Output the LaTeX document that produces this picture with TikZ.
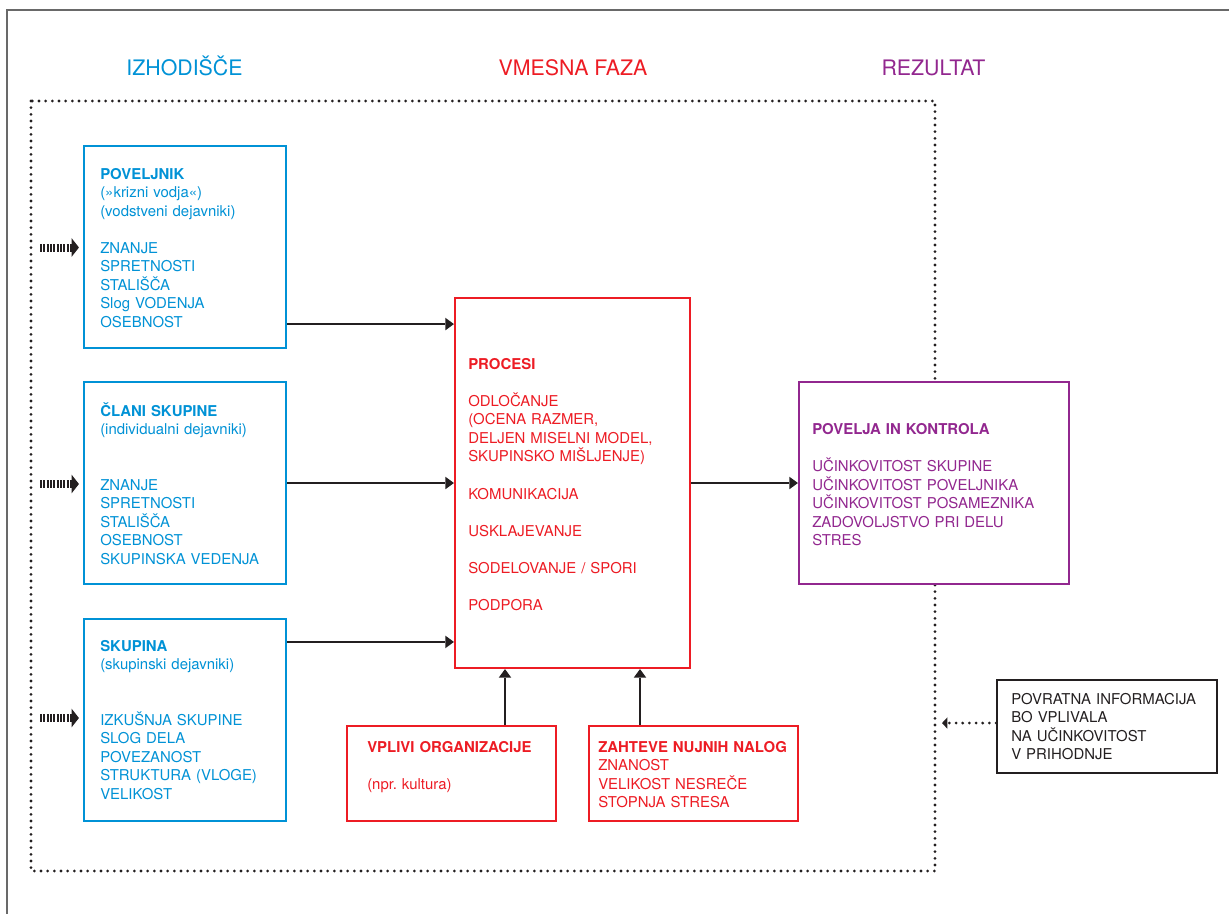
\documentclass[tikz,border=0pt]{standalone}
\usepackage{fontspec}
\setmainfont{TeX Gyre Heros}
\usetikzlibrary{arrows.meta,fit}
\definecolor{cblue}{RGB}{0,146,214}
\definecolor{cred}{RGB}{237,28,36}
\definecolor{cpurple}{RGB}{146,39,143}
\definecolor{cblack}{RGB}{35,31,32}
\definecolor{cframe}{RGB}{105,105,105}
\frenchspacing
\begin{document}
\begin{tikzpicture}[x=0.75pt,y=-0.75pt,
  box/.style={draw, line width=1.6pt, fill=white, inner sep=0pt},
  txt/.style={anchor=base west, inner sep=0pt, text width=270pt, align=left, font=\fontsize{11.2}{13.9}\selectfont},
  head/.style={anchor=base, inner sep=0pt, font=\fontsize{16}{19}\selectfont},
  arr/.style={draw=cblack, line width=1.5pt, -{Triangle[length=6.5pt,width=9.5pt,line width=0pt]}},
  inarr/.style={draw=cblack, line width=6pt, dash pattern=on 1.5pt off 1pt, -{Triangle[length=5.5pt,width=14pt,line width=0pt]}},
  dotline/.style={draw=cblack, line width=2.3pt, line cap=round, dash pattern=on 0pt off 5pt},
  fbarr/.style={dotline, -{Triangle[length=4pt,width=8.5pt,line width=0pt]}},
]
\useasboundingbox (0,0) rectangle (1229,914);
% outer frame
\draw[cframe, line width=1.5pt] (7,914) -- (7,9.5) -- (1229,9.5);
% dotted region
\draw[dotline] (31,101) rectangle (935,871);
% headers
\node[head, text=cblue] (h1) at (184.5,75) {IZHODIŠČE};
\node[head, text=cred] (h2) at (573,75) {VMESNA FAZA};
\node[head, text=cpurple] (h3) at (933.5,75) {REZULTAT};
% boxes
\node[box, draw=cblue, fit={(84,146) (286,348)}] (pov) {};
\node[box, draw=cblue, fit={(84,382) (286,584)}] (cla) {};
\node[box, draw=cblue, fit={(84,619) (286,821)}] (sku) {};
\node[box, draw=cred, fit={(455,298) (690,668)}] (pro) {};
\node[box, draw=cpurple, fit={(799,382) (1069,584)}] (rez) {};
\node[box, draw=cred, fit={(347,726) (556,821)}] (vpl) {};
\node[box, draw=cred, fit={(589,726) (798,821)}] (zah) {};
\node[box, draw=cblack, line width=1.4pt, fit={(997,680) (1217,773)}] (fb) {};
% texts
\node[txt, text=cblue] (povt) at (100,179) {\textbf{POVELJNIK}\\(»krizni vodja«)\\(vodstveni dejavniki)\\~\\ZNANJE\\SPRETNOSTI\\STALIŠČA\\Slog VODENJA\\OSEBNOST};
\node[txt, text=cblue] (clat) at (100,416) {\textbf{ČLANI SKUPINE}\\(individualni dejavniki)\\~\\~\\ZNANJE\\SPRETNOSTI\\STALIŠČA\\OSEBNOST\\SKUPINSKA VEDENJA};
\node[txt, text=cblue] (skut) at (100,651) {\textbf{SKUPINA}\\(skupinski dejavniki)\\~\\~\\IZKUŠNJA SKUPINE\\SLOG DELA\\POVEZANOST\\STRUKTURA (VLOGE)\\VELIKOST};
\node[txt, text=cred] (prot) at (468,369.3) {\textbf{PROCESI}\\~\\ODLOČANJE\\(OCENA RAZMER,\\DELJEN MISELNI MODEL,\\SKUPINSKO MIŠLJENJE)\\~\\KOMUNIKACIJA\\~\\USKLAJEVANJE\\~\\SODELOVANJE / SPORI\\~\\PODPORA};
\node[txt, text=cpurple] (rezt) at (812,434.5) {\textbf{POVELJA IN KONTROLA}\\~\\UČINKOVITOST SKUPINE\\UČINKOVITOST POVELJNIKA\\UČINKOVITOST POSAMEZNIKA\\ZADOVOLJSTVO PRI DELU\\STRES};
\node[txt, text=cred] (vplt) at (367,752.3) {\textbf{VPLIVI ORGANIZACIJE}\\~\\(npr. kultura)};
\node[txt, text=cred] (zaht) at (598,752.3) {\textbf{ZAHTEVE NUJNIH NALOG}\\ZNANOST\\VELIKOST NESREČE\\STOPNJA STRESA};
\node[txt, text=cblack, text width=150pt] (fbt) at (1011,704) {POVRATNA INFORMACIJA\\BO VPLIVALA\\NA UČINKOVITOST\\V PRIHODNJE};
% connectors
\coordinate (a1) at ([yshift=18.75pt]pov.south east);
\draw[arr] (a1) -- (a1 -| pro.west);
\draw[arr] (cla.east) -- (cla.east -| pro.west);
\coordinate (a3) at ([yshift=-18pt]sku.north east);
\draw[arr] (a3) -- (a3 -| pro.west);
\draw[arr] (pro.east |- rez.west) -- (rez.west);
\draw[arr] (vpl.north -| 505,0) -- (pro.south -| 505,0);
\draw[arr] (zah.north -| 640,0) -- (pro.south -| 640,0);
% input arrows
\coordinate (i1) at (40,247.5);
\coordinate (i2) at (40,484);
\coordinate (i3) at (40,718);
\draw[inarr, shorten >=3pt] (i1) -- (i1 -| pov.west);
\draw[inarr, shorten >=3pt] (i2) -- (i2 -| cla.west);
\draw[inarr, shorten >=3pt] (i3) -- (i3 -| sku.west);
% feedback
\coordinate (f0) at ([yshift=2.6pt]fb.west);
\coordinate (fe) at (942,0);
\draw[fbarr] (f0) -- (f0 -| fe);
\end{tikzpicture}
\end{document}
